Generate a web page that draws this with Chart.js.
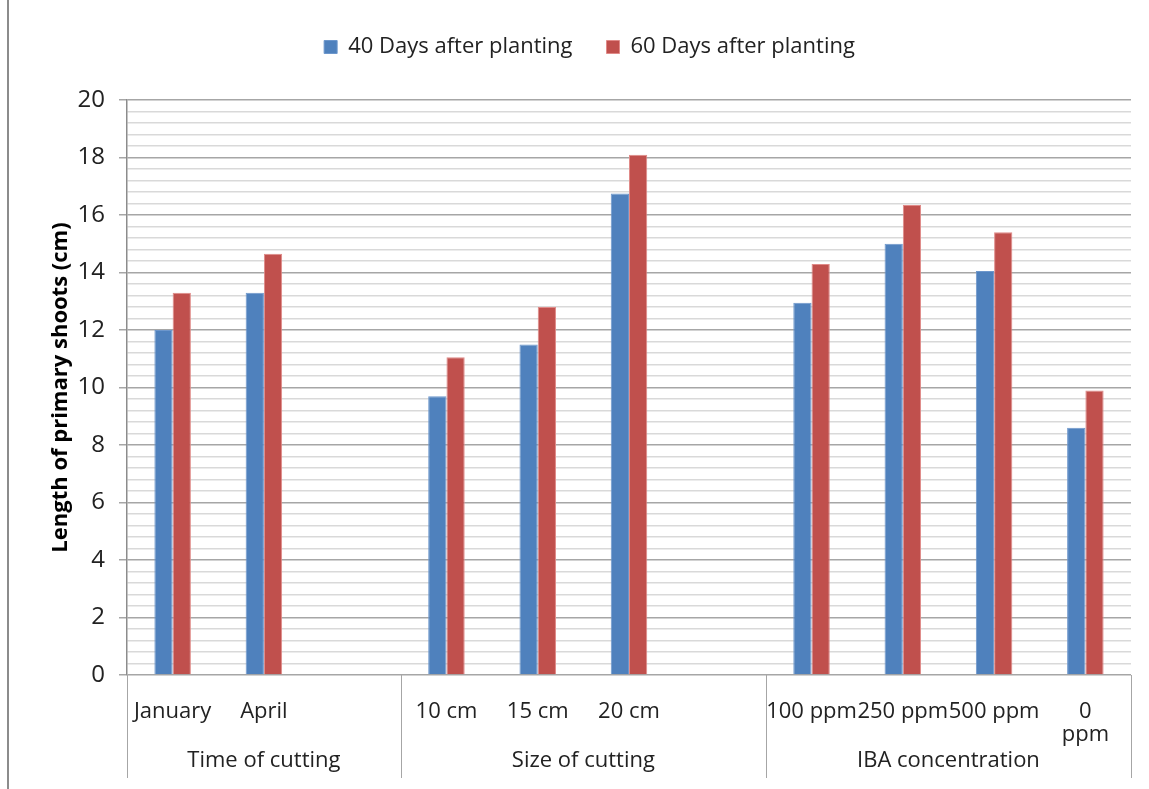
<!DOCTYPE html>
<html>
<head>
<meta charset="utf-8">
<script src="https://cdn.jsdelivr.net/npm/chart.js@4.4.0/dist/chart.umd.min.js"></script>
<style>
  html, body { margin: 0; padding: 0; background: #fff; }
  #wrap { width: 1149px; height: 789px; position: relative; }
</style>
</head>
<body>
<div id="wrap"><canvas id="c" width="1149" height="789"></canvas></div>
<script>
// Treatment levels (blank slots separate the three treatment groups)
const categories = ['January', 'April', '', '10 cm', '15 cm', '20 cm', '', '100 ppm', '250 ppm', '500 ppm', ['0', 'ppm']];
// Group each category belongs to
const groupOf = [0, 0, 0, 1, 1, 1, 1, 2, 2, 2, 2];
const groupNames = ['Time of cutting', 'Size of cutting', 'IBA concentration'];
// Shoot length (cm)
const days40 = [12.0, 13.3, null, 9.7, 11.5, 16.75, null, 12.95, 15.0, 14.05, 8.6];
const days60 = [13.3, 14.65, null, 11.05, 12.8, 18.1, null, 14.3, 16.35, 15.4, 9.9];
const seriesNames = ['40 Days after planting', '60 Days after planting'];
const yTicks = [0, 2, 4, 6, 8, 10, 12, 14, 16, 18, 20];

const FONT = '"Open Sans", sans-serif';
const isMajor = v => Math.abs(v / 2 - Math.round(v / 2)) < 1e-6;

// Reserve a fixed band for the legend above the plot
const legendBand = {
  id: 'legendBand',
  beforeLayout(chart) {
    const lg = chart.legend;
    if (lg && !lg._bandPatched) {
      const fit = lg.fit.bind(lg);
      lg.fit = function () { fit(); this.height = 98; };
      lg._bandPatched = true;
    }
  }
};

// Draws the group separators and group names under the category labels
const groupAxis = {
  id: 'groupAxis',
  afterDraw(chart) {
    const ctx = chart.ctx;
    const x = chart.scales.x;
    const area = chart.chartArea;
    const n = categories.length;
    const half = (x.getPixelForValue(1) - x.getPixelForValue(0)) / 2;
    const edges = [x.getPixelForValue(0) - half];
    for (let i = 1; i < n; i++) {
      if (groupOf[i] !== groupOf[i - 1]) edges.push(x.getPixelForValue(i) - half);
    }
    edges.push(x.getPixelForValue(n - 1) + half);
    ctx.save();
    ctx.strokeStyle = '#a6a6a6';
    ctx.lineWidth = 1;
    edges.forEach(e => {
      const px = Math.round(e) + 0.5;
      ctx.beginPath();
      ctx.moveTo(px, area.bottom);
      ctx.lineTo(px, area.bottom + 103);
      ctx.stroke();
    });
    ctx.fillStyle = '#222';
    ctx.font = '22px ' + FONT;
    ctx.textAlign = 'center';
    ctx.textBaseline = 'middle';
    groupNames.forEach((g, i) => {
      ctx.fillText(g, (edges[i] + edges[i + 1]) / 2, area.bottom + 86);
    });
    // outer frame edge
    ctx.strokeStyle = '#8c8c8c';
    ctx.lineWidth = 2;
    ctx.beginPath();
    ctx.moveTo(8, 0);
    ctx.lineTo(8, chart.height);
    ctx.stroke();
    ctx.restore();
  }
};

new Chart(document.getElementById('c'), {
  type: 'bar',
  data: {
    labels: categories,
    datasets: [
      { label: seriesNames[0], data: days40, backgroundColor: '#4f81bd', borderColor: '#6d97cc', borderWidth: 1 },
      { label: seriesNames[1], data: days60, backgroundColor: '#c0504d', borderColor: '#e08a88', borderWidth: 1 }
    ]
  },
  options: {
    responsive: false,
    animation: false,
    devicePixelRatio: 1,
    layout: { padding: { left: 48, right: 18, top: 2, bottom: 10 } },
    datasets: { bar: { categoryPercentage: 0.4, barPercentage: 1.0, skipNull: false } },
    plugins: {
      legend: {
        position: 'top',
        labels: {
          font: { family: FONT, size: 22 },
          color: '#222',
          boxWidth: 13,
          boxHeight: 13,
          padding: 34
        }
      },
      tooltip: { enabled: false }
    },
    scales: {
      x: {
        grid: { display: false },
        border: { display: false },
        ticks: {
          autoSkip: false,
          maxRotation: 0,
          minRotation: 0,
          padding: 17,
          color: '#222',
          font: { family: FONT, size: 22, lineHeight: 1.05 }
        },
        afterFit(s) { s.height = 104; }
      },
      y: {
        min: 0,
        max: 20,
        afterBuildTicks(s) {
          const t = [];
          for (let i = 0; i <= 50; i++) t.push({ value: +(i * 0.4).toFixed(1) });
          s.ticks = t;
        },
        grid: {
          color: c => isMajor(c.tick.value) ? '#a6a6a6' : '#d9d9d9',
          lineWidth: 1.5,
          tickLength: 8,
          tickColor: c => isMajor(c.tick.value) ? '#a6a6a6' : 'rgba(0,0,0,0)'
        },
        border: { display: true, color: '#8c8c8c', width: 1.5 },
        ticks: {
          autoSkip: false,
          padding: 14,
          color: '#222',
          font: { family: FONT, size: 24 },
          callback: v => (isMajor(v) && yTicks.includes(Math.round(v))) ? String(Math.round(v)) : ''
        },
        title: {
          display: true,
          text: 'Length of primary shoots (cm)',
          color: '#000',
          font: { family: FONT, size: 22, weight: 'bold' },
          padding: { top: 0, bottom: 0 }
        },
        afterFit(s) { s.width = 79; }
      }
    }
  },
  plugins: [legendBand, groupAxis]
});
</script>
</body>
</html>
